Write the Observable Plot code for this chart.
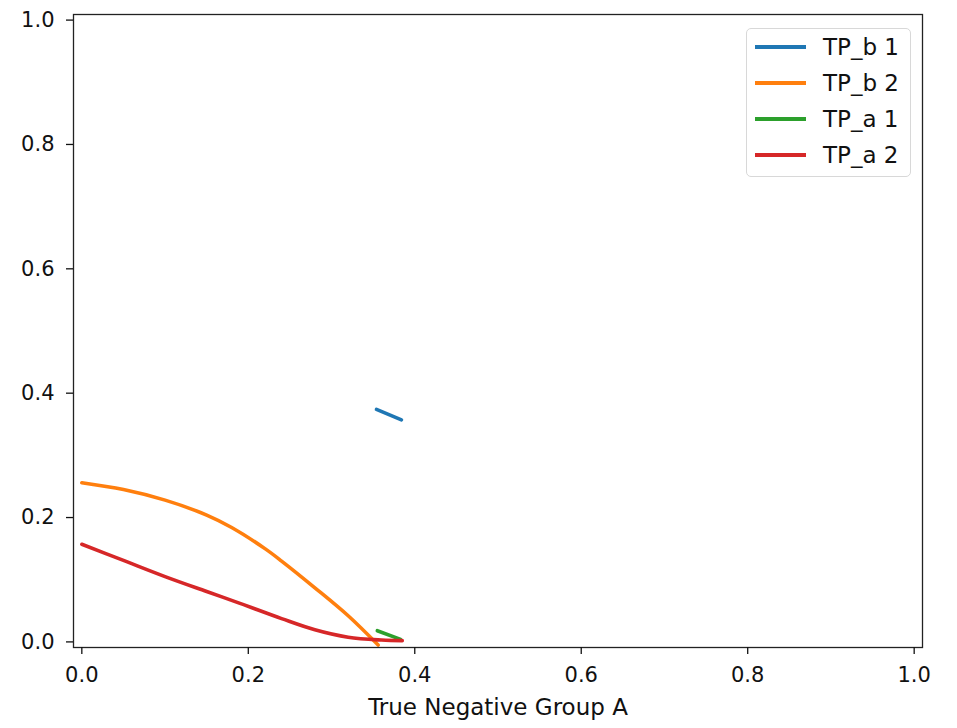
<!DOCTYPE html>
<html>
<head>
<meta charset="utf-8">
<script src="https://cdn.jsdelivr.net/npm/d3@7"></script>
<script src="https://cdn.jsdelivr.net/npm/@observablehq/plot@0.6"></script>
<style>
  html, body { margin: 0; padding: 0; background: #fff; }
  #wrap { position: relative; width: 957px; height: 728px; font-family: "DejaVu Sans", sans-serif; }
  #legend { position: absolute; left: 746px; top: 28px; width: 163px; height: 147px;
    border: 1.5px solid #d8d8d8; border-radius: 5px; background: rgba(255,255,255,0.8); box-sizing: content-box; }
  .entry { position: absolute; left: 0; height: 36px; }
  .swatch { position: absolute; left: 8px; width: 51px; height: 3.6px; }
  .lbl { position: absolute; left: 76px; font-size: 23px; color: #111; white-space: nowrap; line-height: 1; }
</style>
</head>
<body>
<div id="wrap"></div>
<script>
const seriesNames = ["TP_b 1", "TP_b 2", "TP_a 1", "TP_a 2"];
const seriesColors = ["#1f77b4", "#ff7f0e", "#2ca02c", "#d62728"];

const tpb1X = [0.354, 0.384];
const tpb1Y = [0.374, 0.357];

const tpb2X = [0.0, 0.05, 0.10, 0.15, 0.18, 0.22, 0.24, 0.28, 0.32, 0.356];
const tpb2Y = [0.256, 0.245, 0.228, 0.204, 0.184, 0.150, 0.130, 0.087, 0.042, -0.005];

const tpa1X = [0.355, 0.383];
const tpa1Y = [0.018, 0.004];

const tpa2X = [0.0, 0.05, 0.10, 0.15, 0.19, 0.24, 0.28, 0.32, 0.36, 0.385];
const tpa2Y = [0.157, 0.131, 0.105, 0.081, 0.062, 0.0375, 0.0195, 0.0075, 0.003, 0.002];

const xTicks = [0.0, 0.2, 0.4, 0.6, 0.8, 1.0];
const yTicks = [0.0, 0.2, 0.4, 0.6, 0.8, 1.0];
const xLabel = "True Negative Group A";

const seriesX = [tpb1X, tpb2X, tpa1X, tpa2X];
const seriesY = [tpb1Y, tpb2Y, tpa1Y, tpa2Y];
const rows = [];
seriesNames.forEach((name, i) => {
  seriesX[i].forEach((x, j) => rows.push({series: name, x, y: seriesY[i][j]}));
});

const fmt = d3.format(".1f");
const chart = Plot.plot({
  width: 957,
  height: 728,
  marginLeft: 73,
  marginRight: 35,
  marginTop: 14,
  marginBottom: 81,
  style: {fontFamily: "DejaVu Sans", background: "white", color: "#111", overflow: "visible"},
  x: {domain: [-0.01, 1.01]},
  y: {domain: [-0.009, 1.009]},
  color: {domain: seriesNames, range: seriesColors},
  marks: [
    Plot.line(rows, {x: "x", y: "y", z: "series", stroke: "series", strokeWidth: 3.6, curve: "catmull-rom"}),
    Plot.frame({stroke: "#222", strokeWidth: 1.3}),
    Plot.axisX({ticks: xTicks, tickFormat: fmt, tickSize: 7, tickPadding: 13, fontSize: 21, label: null, strokeWidth: 1.3}),
    Plot.axisY({ticks: yTicks, tickFormat: fmt, tickSize: 7, tickPadding: 12, fontSize: 21, label: null, strokeWidth: 1.3}),
    Plot.text([xLabel], {text: d => d, frameAnchor: "bottom", dy: 60, fontSize: 23, lineAnchor: "middle", fill: "#111"})
  ]
});

const wrap = document.getElementById("wrap");
wrap.appendChild(chart);

const legend = d3.select(wrap).append("div").attr("id", "legend");
seriesNames.forEach((name, i) => {
  const e = legend.append("div").attr("class", "entry").style("top", (i * 36) + "px").style("width", "163px");
  e.append("div").attr("class", "swatch").style("background", seriesColors[i]).style("top", "16.2px");
  e.append("div").attr("class", "lbl").style("top", "7px").text(name);
});
</script>
</body>
</html>
